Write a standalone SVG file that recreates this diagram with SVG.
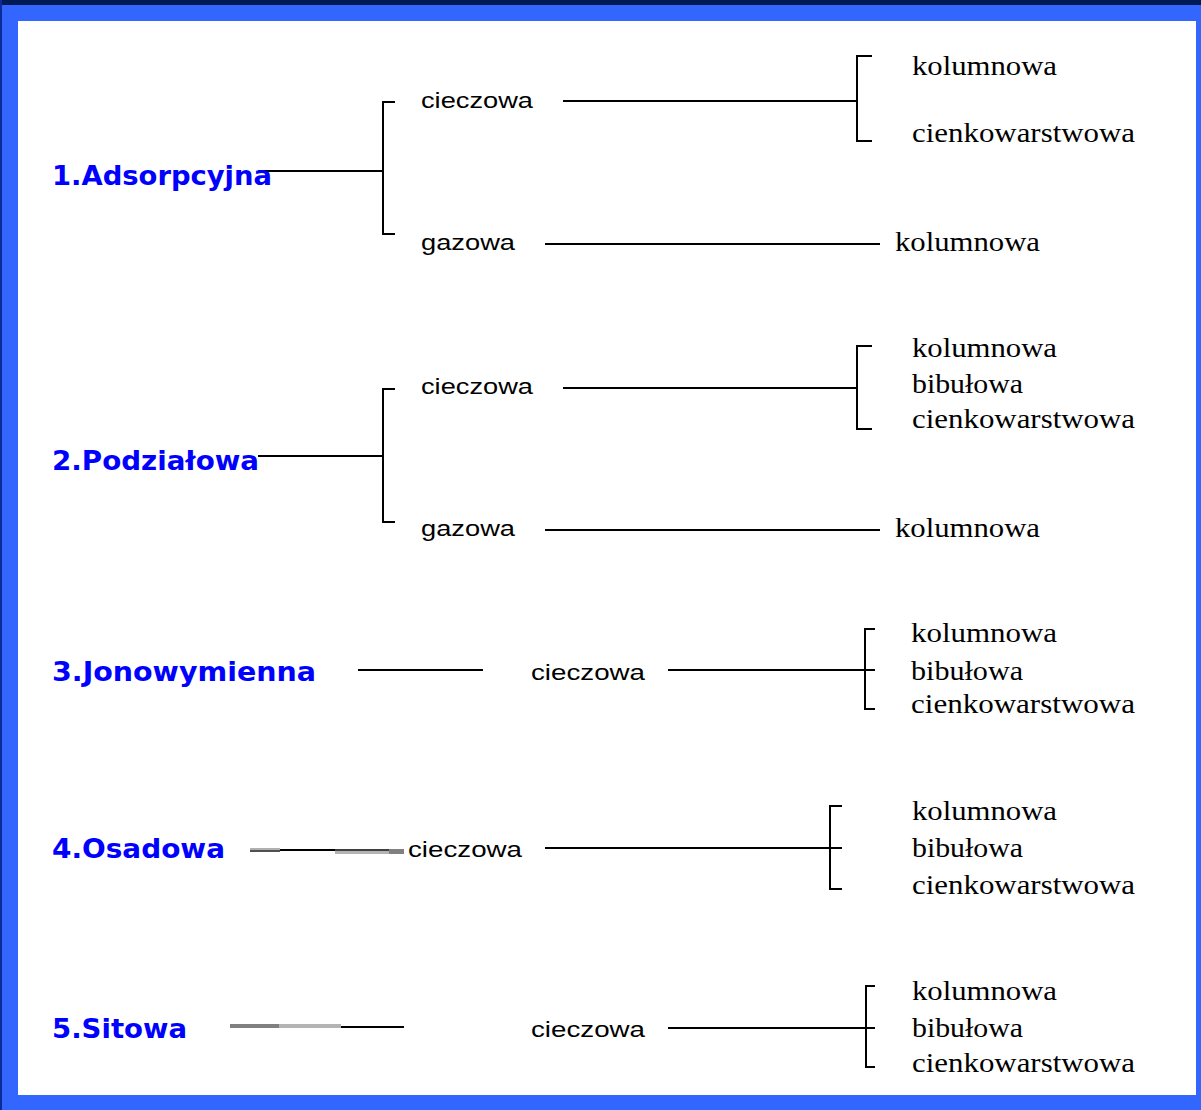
<svg xmlns="http://www.w3.org/2000/svg" width="1201" height="1110" viewBox="0 0 1201 1110">
<style>
.cat{font-family:"DejaVu Sans","Liberation Sans",sans-serif;font-weight:bold;font-size:27px;fill:#0000ff}
.mid{font-family:"Liberation Sans","DejaVu Sans",sans-serif;font-size:22px;fill:#000}
.leaf{font-family:"Liberation Serif","DejaVu Serif",serif;font-size:27px;fill:#000}
.ln{stroke:#000;stroke-width:2;fill:none;shape-rendering:crispEdges}
</style>
<rect x="0" y="0" width="1201" height="1110" fill="#3366ff"/>
<rect x="0" y="0" width="1201" height="5" fill="#001a55"/>
<rect x="0" y="0" width="2" height="1110" fill="#0d2a9a"/>
<rect x="18" y="21" width="1178" height="1074" fill="#ffffff"/>

<g id="connectors">
  <!-- group 1 -->
  <path class="ln" d="M258 171H383M395 102H383V234H395"/>
  <path class="ln" d="M563 101H857M872 56H857V141H872"/>
  <path class="ln" d="M545 244H880"/>
  <!-- group 2 -->
  <path class="ln" d="M258 456H383M395 389H383V522H395"/>
  <path class="ln" d="M563 388H857M872 346H857V429H872"/>
  <path class="ln" d="M545 530H880"/>
  <!-- group 3 -->
  <path class="ln" d="M358 670H483"/>
  <path class="ln" d="M668 670H875M875 629H865V709H875"/>
  <!-- group 4 -->
  <rect x="250" y="848" width="30" height="2" fill="#b0b0b0"/>
  <rect x="250" y="850" width="30" height="2" fill="#505050"/>
  <rect x="280" y="849" width="55" height="2" fill="#000"/>
  <rect x="335" y="849" width="54" height="2" fill="#404040"/>
  <rect x="335" y="851" width="54" height="3" fill="#b4b4b4"/>
  <rect x="389" y="849" width="15" height="5" fill="#808080"/>
  <path class="ln" d="M545 848H842M842 806H830V889H842"/>
  <!-- group 5 -->
  <rect x="230" y="1024" width="49" height="4" fill="#808080"/>
  <rect x="279" y="1024" width="62" height="4" fill="#b4b4b4"/>
  <rect x="341" y="1026" width="63" height="2" fill="#000"/>
  <path class="ln" d="M668 1028H875M875 986H866V1067H875"/>
</g>

<g id="n1"><text class="cat" x="52" y="185" textLength="220" lengthAdjust="spacingAndGlyphs">1.Adsorpcyjna</text></g>
<g id="n1-ciecz"><text class="mid" x="421" y="108" textLength="112" lengthAdjust="spacingAndGlyphs">cieczowa</text></g>
<g id="n1-ciecz-leaves">
  <text class="leaf" x="912" y="75" textLength="145" lengthAdjust="spacingAndGlyphs">kolumnowa</text>
  <text class="leaf" x="912" y="142" textLength="223" lengthAdjust="spacingAndGlyphs">cienkowarstwowa</text>
</g>
<g id="n1-gaz"><text class="mid" x="421" y="250" textLength="94" lengthAdjust="spacingAndGlyphs">gazowa</text></g>
<g id="n1-gaz-leaf"><text class="leaf" x="895" y="251" textLength="145" lengthAdjust="spacingAndGlyphs">kolumnowa</text></g>

<g id="n2"><text class="cat" x="52" y="470" textLength="207" lengthAdjust="spacingAndGlyphs">2.Podziałowa</text></g>
<g id="n2-ciecz"><text class="mid" x="421" y="394" textLength="112" lengthAdjust="spacingAndGlyphs">cieczowa</text></g>
<g id="n2-ciecz-leaves">
  <text class="leaf" x="912" y="357" textLength="145" lengthAdjust="spacingAndGlyphs">kolumnowa</text>
  <text class="leaf" x="912" y="393" textLength="111" lengthAdjust="spacingAndGlyphs">bibułowa</text>
  <text class="leaf" x="912" y="428" textLength="223" lengthAdjust="spacingAndGlyphs">cienkowarstwowa</text>
</g>
<g id="n2-gaz"><text class="mid" x="421" y="536" textLength="94" lengthAdjust="spacingAndGlyphs">gazowa</text></g>
<g id="n2-gaz-leaf"><text class="leaf" x="895" y="537" textLength="145" lengthAdjust="spacingAndGlyphs">kolumnowa</text></g>

<g id="n3"><text class="cat" x="52" y="681" textLength="264" lengthAdjust="spacingAndGlyphs">3.Jonowymienna</text></g>
<g id="n3-ciecz"><text class="mid" x="531" y="680" textLength="114" lengthAdjust="spacingAndGlyphs">cieczowa</text></g>
<g id="n3-leaves">
  <text class="leaf" x="911" y="642" textLength="146" lengthAdjust="spacingAndGlyphs">kolumnowa</text>
  <text class="leaf" x="911" y="680" textLength="112" lengthAdjust="spacingAndGlyphs">bibułowa</text>
  <text class="leaf" x="911" y="713" textLength="224" lengthAdjust="spacingAndGlyphs">cienkowarstwowa</text>
</g>

<g id="n4"><text class="cat" x="52" y="858" textLength="173" lengthAdjust="spacingAndGlyphs">4.Osadowa</text></g>
<g id="n4-ciecz"><text class="mid" x="408" y="857" textLength="114" lengthAdjust="spacingAndGlyphs">cieczowa</text></g>
<g id="n4-leaves">
  <text class="leaf" x="912" y="820" textLength="145" lengthAdjust="spacingAndGlyphs">kolumnowa</text>
  <text class="leaf" x="912" y="857" textLength="111" lengthAdjust="spacingAndGlyphs">bibułowa</text>
  <text class="leaf" x="912" y="894" textLength="223" lengthAdjust="spacingAndGlyphs">cienkowarstwowa</text>
</g>

<g id="n5"><text class="cat" x="52" y="1038" textLength="135" lengthAdjust="spacingAndGlyphs">5.Sitowa</text></g>
<g id="n5-ciecz"><text class="mid" x="531" y="1037" textLength="114" lengthAdjust="spacingAndGlyphs">cieczowa</text></g>
<g id="n5-leaves">
  <text class="leaf" x="912" y="1000" textLength="145" lengthAdjust="spacingAndGlyphs">kolumnowa</text>
  <text class="leaf" x="912" y="1037" textLength="111" lengthAdjust="spacingAndGlyphs">bibułowa</text>
  <text class="leaf" x="912" y="1072" textLength="223" lengthAdjust="spacingAndGlyphs">cienkowarstwowa</text>
</g>
</svg>
